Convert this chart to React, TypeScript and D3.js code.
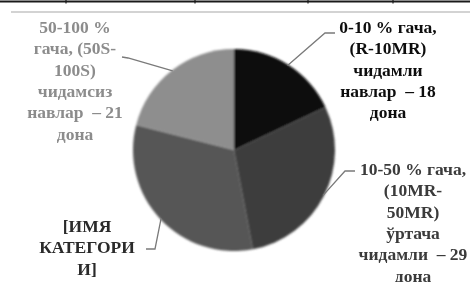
import * as d3 from "d3";

// slices clockwise from 12 o'clock
const categories = ["0-10 %", "10-50 %", "[ИМЯ КАТЕГОРИИ]", "50-100 %"];
const values = [18, 29, 32, 21];
const labelLines = [
  ["0-10 % гача,", "(R-10MR)", "чидамли", "навлар  – 18", "дона"],
  ["10-50 % гача,", "(10MR-", "50MR)", "ўртача", "чидамли  – 29", "дона"],
  ["[ИМЯ", "КАТЕГОРИ", "И]"],
  ["50-100 %", "гача, (50S-", "100S)", "чидамсиз", "навлар  – 21", "дона"],
];

const sliceColors = ["#0b0b0b", "#3e3e3e", "#575757", "#8e8e8e"];
const labelColors = ["#111111", "#3a3a3a", "#2a2a2a", "#8c8c8c"];

// label block layout: text center x, first baseline y, leader elbow and end
const labelLayout = [
  { x: 388, y: 33, elbow: [325, 33], end: [335, 33] },
  { x: 413, y: 175, elbow: [345, 171], end: [355, 171] },
  { x: 87, y: 232, elbow: [155, 249], end: [146, 249] },
  { x: 75, y: 33, elbow: [128, 58], end: [122, 57] },
];

export default function App() {
  const width = 470;
  const height = 282;
  const cx = 234;
  const cy = 150;
  const radius = 101;
  const lineHeight = 21.3;

  const pie = d3
    .pie<number>()
    .sort(null)
    .value((d) => d);
  const arcs = pie(values);
  const arc = d3.arc<d3.PieArcDatum<number>>().innerRadius(0).outerRadius(radius);
  const edgeArc = d3
    .arc<d3.PieArcDatum<number>>()
    .innerRadius(radius - 1)
    .outerRadius(radius - 1);

  return (
    <svg
      width={width}
      height={height}
      viewBox={`0 0 ${width} ${height}`}
      style={{ position: "absolute", left: 0, top: 0, background: "#fff" }}
      fontFamily="'Liberation Serif', 'DejaVu Serif', serif"
    >
      <defs>
        <filter id="soft" x="-10%" y="-10%" width="120%" height="120%">
          <feGaussianBlur stdDeviation="1.2" />
        </filter>
        <filter id="blur" x="-5%" y="-5%" width="110%" height="110%">
          <feGaussianBlur stdDeviation="0.45" />
        </filter>
      </defs>

      {/* table rule above the chart */}
      <line x1={0} x2={width} y1={1.5} y2={1.5} stroke="#1a1a1a" strokeWidth={1.8} />
      {[66, 195, 308, 393].map((x) => (
        <line key={x} x1={x} x2={x} y1={0} y2={3.5} stroke="#1a1a1a" strokeWidth={1.2} />
      ))}
      {/* chart frame top edge */}
      <line x1={11} x2={width} y1={12} y2={12} stroke="#c4c4c4" strokeWidth={1.3} />

      <g transform={`translate(${cx},${cy})`} filter="url(#soft)">
        {arcs.map((a, i) => (
          <path key={categories[i]} d={arc(a) ?? ""} fill={sliceColors[i]} />
        ))}
      </g>

      <g filter="url(#blur)">
        {arcs.map((a, i) => {
          const [sx, sy] = edgeArc.centroid(a);
          const lay = labelLayout[i];
          return (
            <polyline
              key={`leader-${categories[i]}`}
              points={`${cx + sx},${cy + sy} ${lay.elbow[0]},${lay.elbow[1]} ${lay.end[0]},${lay.end[1]}`}
              fill="none"
              stroke="#7a7a7a"
              strokeWidth={1.3}
            />
          );
        })}

        {labelLines.map((lines, i) => (
          <text
            key={`label-${categories[i]}`}
            x={labelLayout[i].x}
            y={labelLayout[i].y}
            textAnchor="middle"
            fontSize={17.5}
            fontWeight="bold"
            fill={labelColors[i]}
            style={{ whiteSpace: "pre" }}
          >
            {lines.map((line, j) => (
              <tspan key={j} x={labelLayout[i].x} y={labelLayout[i].y + j * lineHeight}>
                {line}
              </tspan>
            ))}
          </text>
        ))}
      </g>
    </svg>
  );
}
